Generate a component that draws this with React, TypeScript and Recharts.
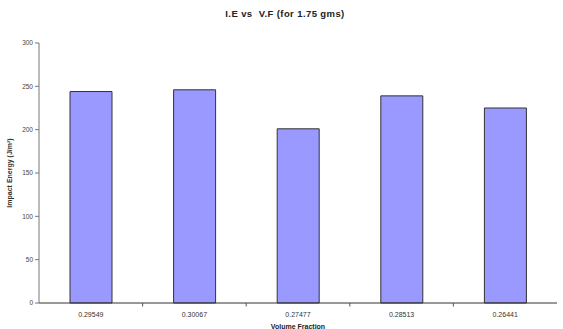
import { BarChart, Bar, XAxis, YAxis, Label } from 'recharts';

// Impact energy per volume fraction, 1.75 gms batch
const fractions = ['0.29549', '0.30067', '0.27477', '0.28513', '0.26441'];
const impactEnergy = [244, 246, 201, 239, 225];
const yTicks = [0, 50, 100, 150, 200, 250, 300];

const data = fractions.map((f, i) => ({ fraction: f, energy: impactEnergy[i] }));

const font = '"Liberation Sans", Arial, sans-serif';

// category label plus a small tick mark on the boundary to its right
function FractionTick(props: any) {
  const { x, y, payload, index, visibleTicksCount } = props;
  const half = payload?.offset ?? 0;
  const last = index === (visibleTicksCount ?? fractions.length) - 1;
  return (
    <g>
      <text x={x} y={y + 8} textAnchor="middle" fontSize={7} fill="#333" fontFamily={font}>
        {payload.value}
      </text>
      {!last && half > 0 && (
        <line x1={x + half} x2={x + half} y1={y - 6} y2={y - 2.5} stroke="#555" strokeWidth={1} />
      )}
    </g>
  );
}

export default function App() {
  return (
    <div style={{ position: 'absolute', left: 0, top: 0, width: 563, height: 329, background: '#fff', fontFamily: font }}>
      <div
        style={{
          position: 'absolute',
          top: 8,
          left: 0,
          width: 570,
          textAlign: 'center',
          fontSize: 9.5,
          letterSpacing: 0.4,
          fontWeight: 'bold',
          color: '#222',
          whiteSpace: 'pre',
        }}
      >
        {'I.E vs  V.F (for 1.75 gms)'}
      </div>
      <BarChart
        width={563}
        height={329}
        data={data}
        margin={{ top: 43, right: 6, bottom: 0, left: 0 }}
        barSize={42}
      >
        <XAxis
          dataKey="fraction"
          height={26}
          tickLine={false}
          axisLine={{ stroke: '#333', strokeWidth: 1 }}
          tick={<FractionTick />}
          tickMargin={0}
          interval={0}
        >
          <Label
            value="Volume Fraction"
            position="insideBottom"
            offset={0}
            style={{ fontSize: 7, fontWeight: 'bold', fill: '#222', fontFamily: font }}
          />
        </XAxis>
        <YAxis
          width={39}
          domain={[0, 300]}
          ticks={yTicks}
          tickSize={4}
          axisLine={{ stroke: '#777', strokeWidth: 1 }}
          tickLine={{ stroke: '#777' }}
          tick={{ fontSize: 6.5, fill: '#444', fontFamily: font }}
          tickMargin={2}
        >
          <Label
            value="Impact Energy (J/m²)"
            angle={-90}
            position="insideLeft"
            offset={10}
            style={{ fontSize: 7, fontWeight: 'bold', fill: '#333', fontFamily: font, textAnchor: 'middle' }}
          />
        </YAxis>
        <Bar dataKey="energy" fill="#9999ff" stroke="#333" strokeWidth={1} isAnimationActive={false} />
      </BarChart>
    </div>
  );
}
